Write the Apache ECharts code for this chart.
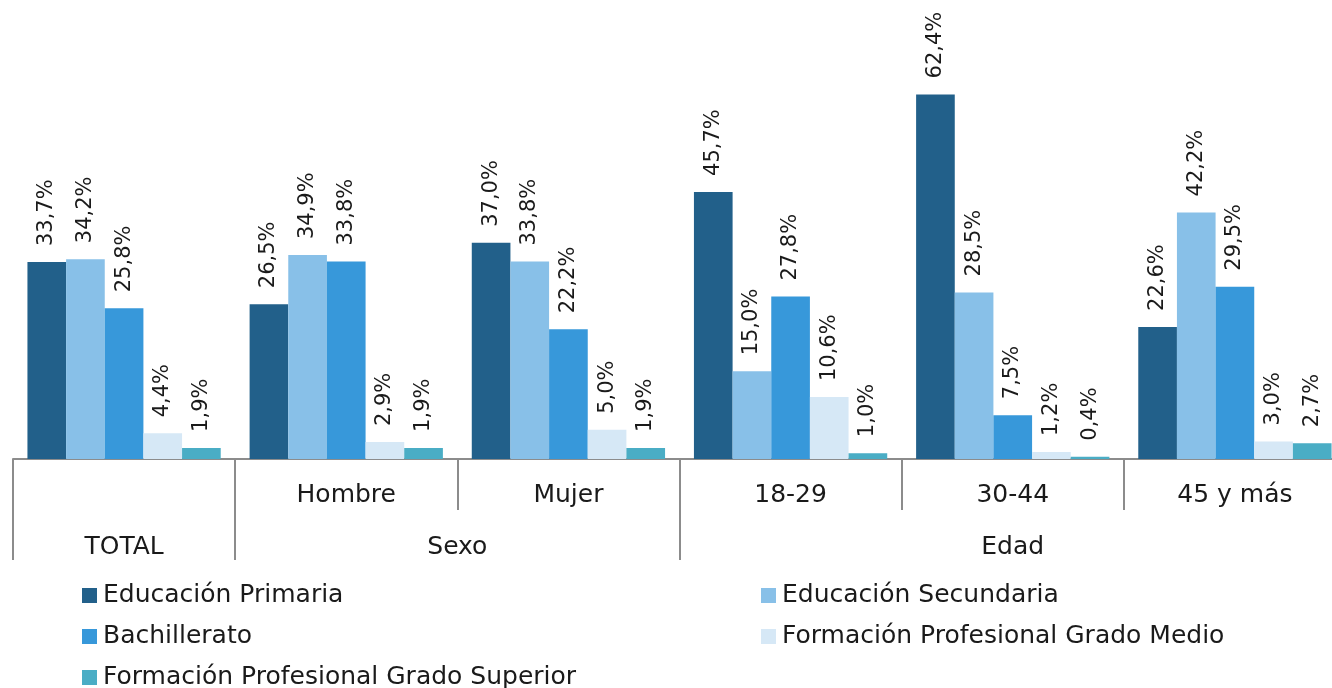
<!DOCTYPE html>
<html>
<head>
<meta charset="utf-8">
<script src="https://cdn.jsdelivr.net/npm/echarts@6/dist/echarts.min.js"></script>
<style>
html,body{margin:0;padding:0;background:#fff;}
#c{width:1332px;height:688px;}
</style>
</head>
<body>
<div id="c"></div>
<script>
const categories = ['', 'Hombre', 'Mujer', '18-29', '30-44', '45 y más'];
const groupLabels = ['TOTAL', 'Sexo', 'Edad'];
const groupCenters = [0.5, 2, 4.5];
const groupBounds = [0, 1, 3, 6];
const seriesNames = ['Educación Primaria', 'Educación Secundaria', 'Bachillerato', 'Formación Profesional Grado Medio', 'Formación Profesional Grado Superior'];
const primaria = [33.7, 26.5, 37.0, 45.7, 62.4, 22.6];
const secundaria = [34.2, 34.9, 33.8, 15.0, 28.5, 42.2];
const bachillerato = [25.8, 33.8, 22.2, 27.8, 7.5, 29.5];
const fpMedio = [4.4, 2.9, 5.0, 10.6, 1.2, 3.0];
const fpSuperior = [1.9, 1.9, 1.9, 1.0, 0.4, 2.7];
const colors = ['#22608A', '#88C0E8', '#3798DA', '#D6E8F6', '#4AADC5'];

const FONT = 'DejaVu Sans';
const allData = [primaria, secundaria, bachillerato, fpMedio, fpSuperior];

const gridLayout = {left: 13, width: 1333, top: 50, bottom: 229, outerBoundsMode: 'none', containLabel: false};

const series = allData.map((d, i) => ({
  name: seriesNames[i],
  type: 'bar',
  data: d,
  barGap: '0%',
  barCategoryGap: '13%',
  itemStyle: {color: colors[i]},
  label: {
    show: true,
    position: 'top',
    rotate: 90,
    align: 'left',
    verticalAlign: 'middle',
    distance: 16,
    fontFamily: FONT,
    fontSize: 21,
    color: '#1a1a1a',
    formatter: p => p.value.toFixed(1).replace('.', ',') + '%'
  }
}));

const legendPos = [[82, 583], [761, 583], [82, 624], [761, 624], [82, 665]];
const legends = seriesNames.map((n, i) => ({
  data: [n],
  left: legendPos[i][0],
  top: legendPos[i][1],
  icon: 'rect',
  itemWidth: 15,
  itemHeight: 15,
  itemGap: 6,
  padding: 0,
  selectedMode: false,
  textStyle: {fontFamily: FONT, fontSize: 25, color: '#1a1a1a', padding: [0, 0, 0, 1]}
}));

const tickStyle = {color: '#8c8c8c', width: 2};

const option = {
  animation: false,
  backgroundColor: '#fff',
  legend: legends,
  grid: [
    Object.assign({}, gridLayout),
    Object.assign({}, gridLayout)
  ],
  xAxis: [
    {
      type: 'category',
      gridIndex: 0,
      data: categories,
      axisLine: {lineStyle: tickStyle},
      axisTick: {show: true, length: 51, lineStyle: tickStyle},
      axisLabel: {fontFamily: FONT, fontSize: 25, color: '#1a1a1a', margin: 24, interval: 0}
    },
    {
      type: 'value',
      gridIndex: 1,
      min: 0,
      max: 6,
      position: 'bottom',
      splitLine: {show: false},
      axisLine: {show: false},
      axisTick: {show: true, length: 101, customValues: groupBounds, lineStyle: tickStyle},
      axisLabel: {
        show: true,
        margin: 76,
        customValues: groupCenters,
        fontFamily: FONT, fontSize: 25, color: '#1a1a1a',
        formatter: v => {
          const i = groupCenters.indexOf(v);
          return i >= 0 ? groupLabels[i] : '';
        }
      }
    }
  ],
  yAxis: [
    {type: 'value', gridIndex: 0, min: 0, max: 70, show: false},
    {type: 'value', gridIndex: 1, min: 0, max: 70, show: false}
  ],
  series: series
};

const chart = echarts.init(document.getElementById('c'), null, {renderer: 'canvas'});
chart.setOption(option);
</script>
</body>
</html>
